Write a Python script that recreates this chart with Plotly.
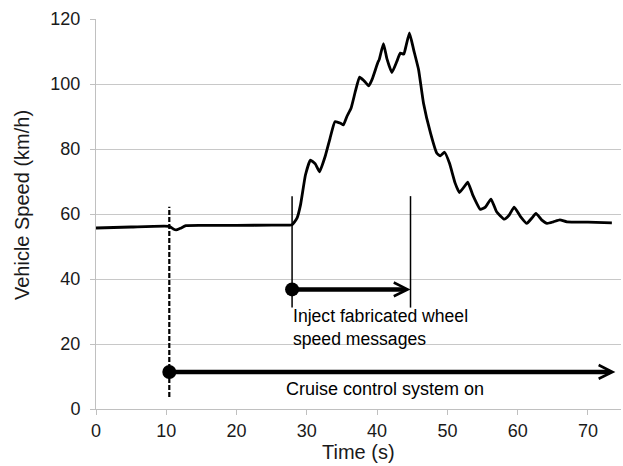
import plotly.graph_objects as go

# ---- data ----
time_s = [0, 5, 10.4, 11.0, 11.4, 12.0, 12.8, 15, 20, 25, 27.9, 28.6, 29.1, 29.8,
          30.5, 31.2, 31.8, 32.6, 33.3, 34.0, 34.8, 35.2, 35.7, 36.3, 36.9, 37.5,
          38.1, 38.8, 39.3, 40.1, 40.3, 40.9, 41.4, 42.1, 42.8, 43.3, 43.8, 44.1,
          44.6, 45.2, 45.9, 46.6, 47.6, 48.5, 49.0, 49.6, 50.3, 51.1, 51.7, 52.4,
          52.9, 53.6, 54.7, 55.4, 56.2, 57.0, 58.1, 58.8, 59.5, 60.4, 61.3, 62.0,
          62.6, 63.4, 64.2, 65.1, 66.0, 67.0, 70.0, 73.4]
speed_kmh = [55.7, 56.0, 56.2, 55.4, 55.1, 55.6, 56.4, 56.5, 56.5, 56.6, 56.7, 58.7,
             62.8, 72.0, 76.6, 75.4, 73.0, 77.7, 83.3, 88.4, 87.9, 87.4, 90.0, 92.6,
             97.7, 102.1, 101.1, 99.4, 101.5, 106.6, 107.5, 112.4, 107.7, 103.5,
             106.9, 109.5, 109.2, 111.6, 115.7, 110.5, 104.4, 94.1, 84.9, 78.7,
             77.9, 79.0, 75.6, 69.5, 66.6, 68.4, 69.8, 65.9, 61.4, 62.1, 64.6, 60.7,
             58.4, 59.7, 62.1, 59.2, 57.1, 58.7, 60.2, 58.2, 57.1, 57.6, 58.2, 57.6,
             57.5, 57.3]

x_ticks = [0, 10, 20, 30, 40, 50, 60, 70]
y_ticks = [0, 20, 40, 60, 80, 100, 120]

# events
cruise_on_t = 10.43
cruise_end_t = 73.9
cruise_level = 11.4
inject_start_t = 27.9
inject_end_t = 44.75
inject_level = 36.8
cruise_label = "Cruise control system on"
inject_label = "Inject fabricated wheel<br>speed messages"

FONT = "Liberation Sans, Arial, sans-serif"
TXT = "#1a1a1a"

fig = go.Figure()

fig.add_trace(go.Scatter(
    x=time_s, y=speed_kmh, mode="lines",
    line=dict(color="black", width=2.8, shape="spline", smoothing=0.4),
    showlegend=False, hoverinfo="skip"))

fig.add_trace(go.Scatter(
    x=[cruise_on_t, inject_start_t], y=[cruise_level, inject_level], mode="markers",
    marker=dict(color="black", size=14), showlegend=False, hoverinfo="skip"))

shapes = [
    dict(type="line", xref="x", yref="y", x0=cruise_on_t, x1=cruise_on_t, y0=3.7, y1=62.2,
         line=dict(color="black", width=2.2, dash="5px,2px")),
    dict(type="line", xref="x", yref="y", x0=inject_start_t, x1=inject_start_t, y0=31.2, y1=65.5,
         line=dict(color="black", width=1.5)),
    dict(type="line", xref="x", yref="y", x0=inject_end_t, x1=inject_end_t, y0=31.2, y1=65.5,
         line=dict(color="black", width=1.5)),
]

annotations = [
    dict(x=cruise_end_t, y=cruise_level, ax=cruise_on_t, ay=cruise_level, axref="x", ayref="y",
         xref="x", yref="y", text="", showarrow=True, arrowhead=5, arrowwidth=4.5,
         arrowsize=0.6, arrowcolor="black", standoff=0),
    dict(x=inject_end_t, y=inject_level, ax=inject_start_t, ay=inject_level, axref="x", ayref="y",
         xref="x", yref="y", text="", showarrow=True, arrowhead=5, arrowwidth=4.5,
         arrowsize=0.6, arrowcolor="black", standoff=0),
    dict(x=26.75, y=6.1, xref="x", yref="y", text=cruise_label, showarrow=False,
         xanchor="left", yanchor="middle", font=dict(family=FONT, size=18, color="black")),
    dict(x=27.7, y=25.2, xref="x", yref="y", text=inject_label, showarrow=False,
         xanchor="left", yanchor="middle", align="left",
         font=dict(family=FONT, size=17.6, color="black")),
    dict(x=0, y=0.523, xref="paper", yref="paper", xshift=-74, text="Vehicle Speed (km/h)",
         textangle=-90, showarrow=False, xanchor="center", yanchor="middle",
         font=dict(family=FONT, size=20, color=TXT)),
    dict(x=0.5, y=0, xref="paper", yref="paper", yshift=-43, text="Time (s)",
         showarrow=False, xanchor="center", yanchor="middle",
         font=dict(family=FONT, size=20, color=TXT)),
]

fig.update_layout(
    width=623, height=466,
    margin=dict(l=96, r=2, t=19, b=57, autoexpand=False),
    plot_bgcolor="white", paper_bgcolor="white",
    font=dict(family=FONT, size=18, color=TXT),
    shapes=shapes, annotations=annotations,
    xaxis=dict(range=[0, 74.7], tickvals=x_ticks, ticktext=[str(v) for v in x_ticks],
               automargin=False,
               showgrid=False, zeroline=False, showline=True, linecolor="#c0c0c0", linewidth=1,
               ticks="outside", ticklen=5, tickcolor="#c0c0c0",
               tickfont=dict(size=18, family=FONT, color=TXT)),
    yaxis=dict(range=[0, 120], tickvals=y_ticks, ticktext=[str(v) for v in y_ticks],
               automargin=False,
               showgrid=True, gridcolor="#c8c8c8", gridwidth=1, zeroline=False,
               showline=True, linecolor="#c0c0c0", linewidth=1,
               ticks="outside", ticklen=5, tickcolor="#c0c0c0", ticklabelstandoff=6,
               tickfont=dict(size=18, family=FONT, color=TXT)),
)

fig.write_html("out.html", config={"displayModeBar": False},
               post_script="document.body.style.margin='0px';document.body.style.overflow='hidden';")
